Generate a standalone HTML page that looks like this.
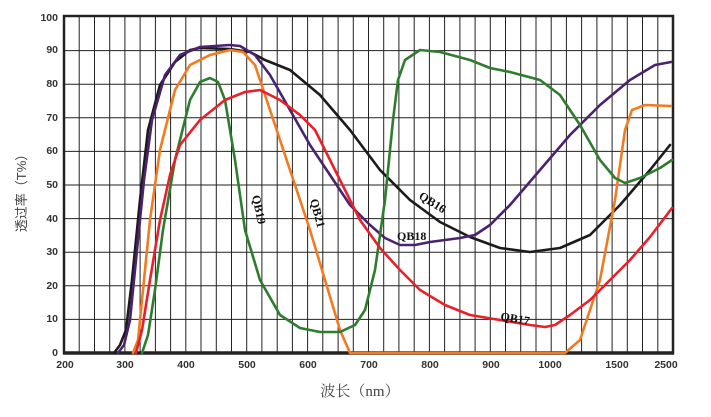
<!DOCTYPE html>
<html><head><meta charset="utf-8"><style>
html,body{margin:0;padding:0;background:#fff;}
svg{display:block;}
.t{font-family:"Liberation Sans",sans-serif;font-size:10.5px;font-weight:bold;fill:#333;}
.q{font-family:"Liberation Serif",serif;font-size:12px;font-weight:bold;fill:#111;}
.c{fill:none;stroke-width:2.6;stroke-linejoin:round;stroke-linecap:round;}
</style></head><body>
<svg width="711" height="417" viewBox="0 0 711 417" xmlns="http://www.w3.org/2000/svg">
<path stroke="#222" stroke-width="1" fill="none" d="M79.2 17V353M94.5 17V353M109.7 17V353M124.9 17V353M140.1 17V353M155.4 17V353M170.6 17V353M185.8 17V353M201 17V353M216.3 17V353M231.5 17V353M246.7 17V353M261.9 17V353M277.2 17V353M292.4 17V353M307.6 17V353M322.8 17V353M338.1 17V353M353.3 17V353M368.5 17V353M383.7 17V353M398.9 17V353M414.2 17V353M429.4 17V353M444.6 17V353M459.9 17V353M475.1 17V353M490.3 17V353M505.5 17V353M520.7 17V353M536 17V353M551.2 17V353M566.4 17V353M581.6 17V353M596.9 17V353M612.1 17V353M627.3 17V353M642.5 17V353M657.8 17V353
M64 50.6H673M64 84.2H673M64 117.8H673M64 151.4H673M64 185H673M64 218.6H673M64 252.2H673M64 285.8H673M64 319.4H673"/>
<rect x="64" y="16" width="609" height="337" fill="none" stroke="#222" stroke-width="2.5"/>
<line x1="63" y1="353" x2="674" y2="353" stroke="#222" stroke-width="3.5"/>
<g class="t" text-anchor="end">
<text x="58" y="21">100</text><text x="58" y="53">90</text><text x="58" y="87">80</text><text x="58" y="121">70</text><text x="58" y="154">60</text><text x="58" y="188">50</text><text x="58" y="222">40</text><text x="58" y="255">30</text><text x="58" y="289">20</text><text x="58" y="322">10</text><text x="58" y="356">0</text>
</g>
<g class="t" text-anchor="middle">
<text x="65" y="368">200</text><text x="125" y="368">300</text><text x="186" y="368">400</text><text x="247" y="368">500</text><text x="308" y="368">600</text><text x="369" y="368">700</text><text x="430" y="368">800</text><text x="491" y="368">900</text><text x="550" y="368">1000</text><text x="617" y="368">1500</text><text x="666" y="368">2500</text>
</g>
<text x="26" y="190" transform="rotate(-90 26 190)" text-anchor="middle" style="font-family:'Liberation Sans','Noto Sans CJK SC',sans-serif;font-size:13px;fill:#444">透过率（T%）</text>
<text x="360" y="396" text-anchor="middle" style="font-family:'Liberation Serif','Noto Serif CJK SC',serif;font-size:15px;fill:#444">波长（nm）</text>

<polyline class="c" stroke="#1b1b1b" points="114,353 120,345 126,330 132,280 140,200 148,130 160,85 175,62 190,50 200,48 230,49 250,52 265,60 290,70 320,95 350,130 380,170 410,200 440,222 470,237 500,248 530,252 560,248 590,235 620,205 650,170 670,145"/>
<polyline class="c" stroke="#4b2270" points="118,353 124,345 130,320 136,260 144,180 152,120 165,75 180,55 200,47 230,45 240,46 255,55 270,75 290,110 310,145 330,175 350,205 370,225 385,238 400,245 415,245 430,242 460,238 475,235 490,225 510,205 540,170 570,135 600,105 630,80 655,65 671,62"/>
<polyline class="c" stroke="#f47a20" points="133,353 138,340 142,300 150,220 160,150 175,90 190,65 210,55 230,50 243,52 255,65 270,110 290,170 310,230 325,280 340,330 350,353 565,353 580,340 600,280 615,200 625,130 632,110 645,105 671,106"/>
<polyline class="c" stroke="#2e7d2e" points="142,353 148,335 155,290 163,230 175,160 190,100 200,82 210,78 218,82 225,100 235,160 245,230 260,280 280,315 300,328 320,332 340,332 355,325 365,310 375,270 385,200 393,120 398,80 405,60 420,50 440,52 470,60 490,68 510,72 540,80 560,95 580,125 600,160 615,178 625,183 640,178 660,168 672,160"/>
<polyline class="c" stroke="#e8202a" points="136,353 142,330 150,280 160,220 170,175 180,145 200,120 225,100 245,92 260,90 280,100 300,115 315,130 330,160 345,190 360,220 380,248 400,270 420,290 445,305 470,315 500,320 530,325 545,327 555,325 570,315 590,300 610,280 630,260 650,237 672,208"/>

<text class="q" x="252" y="196" transform="rotate(78 252 196)">QB19</text>
<text class="q" x="310" y="200" transform="rotate(75 310 200)">QB21</text>
<text class="q" x="418" y="198" transform="rotate(32 418 198)">QB16</text>
<text class="q" x="397" y="240">QB18</text>
<text class="q" x="500" y="320" transform="rotate(10 500 320)">QB17</text>
</svg>
</body></html>
